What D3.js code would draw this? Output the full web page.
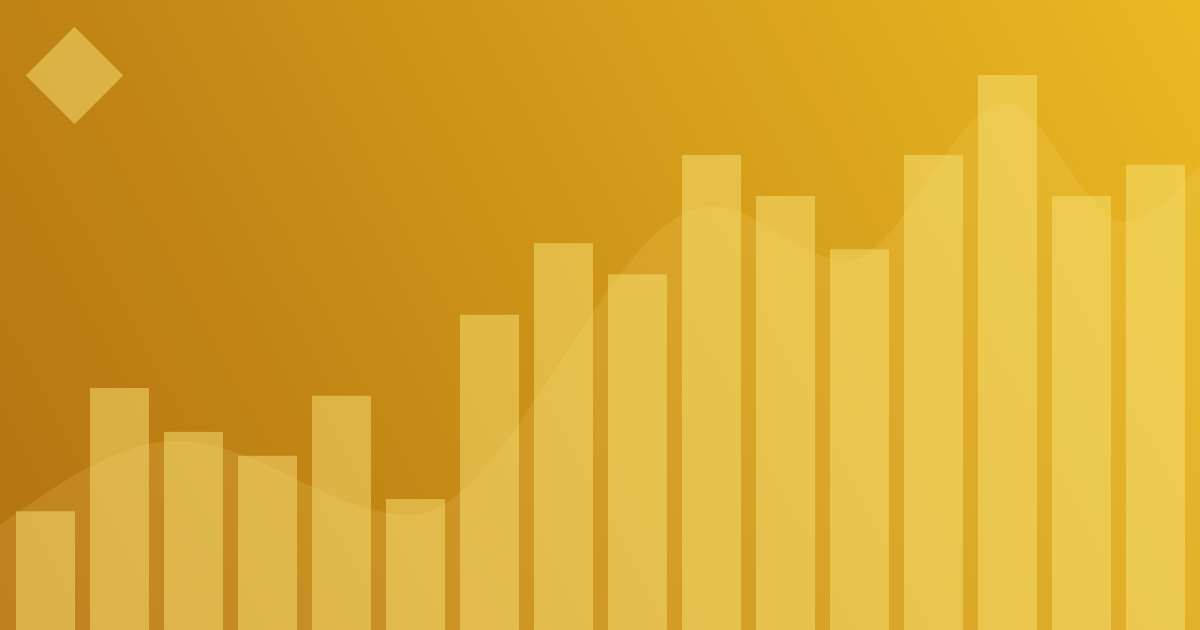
<!DOCTYPE html>
<html>
<head>
<meta charset="utf-8">
<script src="https://cdn.jsdelivr.net/npm/d3@7"></script>
<style>
html,body{margin:0;padding:0;overflow:hidden;background:#c08515;}
svg{display:block;}
</style>
</head>
<body>
<svg id="chart" width="1200" height="630"></svg>
<script>
// ---- data ----
const categories = ["1","2","3","4","5","6","7","8","9","10","11","12","13","14","15","16"];
const barValues = [21.4, 43.6, 35.7, 31.4, 42.2, 23.6, 56.8, 69.7, 64.1, 85.6, 78.2, 68.6, 85.6, 100, 78.2, 83.8];
const curveX = [0, 14.8, 34.2, 59.3, 70.6, 83.8, 93.7, 100];
const curveValues = [18.9, 34.1, 20.7, 76.4, 66.5, 95.0, 73.7, 83.8];

const W = 1200, H = 630;
const svg = d3.select("#chart");

const defs = svg.append("defs");
const grad = defs.append("linearGradient")
  .attr("id", "bg").attr("gradientUnits", "userSpaceOnUse")
  .attr("x1", 0).attr("y1", H).attr("x2", W).attr("y2", 0);
grad.append("stop").attr("offset", "0%").attr("stop-color", "#b37210");
grad.append("stop").attr("offset", "100%").attr("stop-color", "#e9b922");

svg.append("rect").attr("width", W).attr("height", H).attr("fill", "url(#bg)");

const x = d3.scaleBand().domain(categories).range([16, 1185]).paddingInner(15 / 74).paddingOuter(0);
const y = d3.scaleLinear().domain([0, 100]).range([H, 75]);
const xc = d3.scaleLinear().domain([0, 100]).range([0, W]);

// curve area
const area = d3.area()
  .x((d, i) => xc(curveX[i]))
  .y0(H)
  .y1(d => y(d))
  .curve(d3.curveMonotoneX);
svg.append("path")
  .datum(curveValues)
  .attr("d", area)
  .attr("fill", "#ffe680")
  .attr("fill-opacity", 0.14);

// bars
svg.append("g").selectAll("rect")
  .data(barValues)
  .join("rect")
  .attr("x", (d, i) => x(categories[i]))
  .attr("y", d => y(d))
  .attr("width", x.bandwidth())
  .attr("height", d => H - y(d))
  .attr("fill", "#f7e174")
  .attr("fill-opacity", 0.5);

// diamond logo
svg.append("rect")
  .attr("x", -34.5).attr("y", -34.5).attr("width", 69).attr("height", 69)
  .attr("transform", "translate(74.5,75.5) rotate(45)")
  .attr("fill", "#f7e174")
  .attr("fill-opacity", 0.5);
</script>
</body>
</html>
